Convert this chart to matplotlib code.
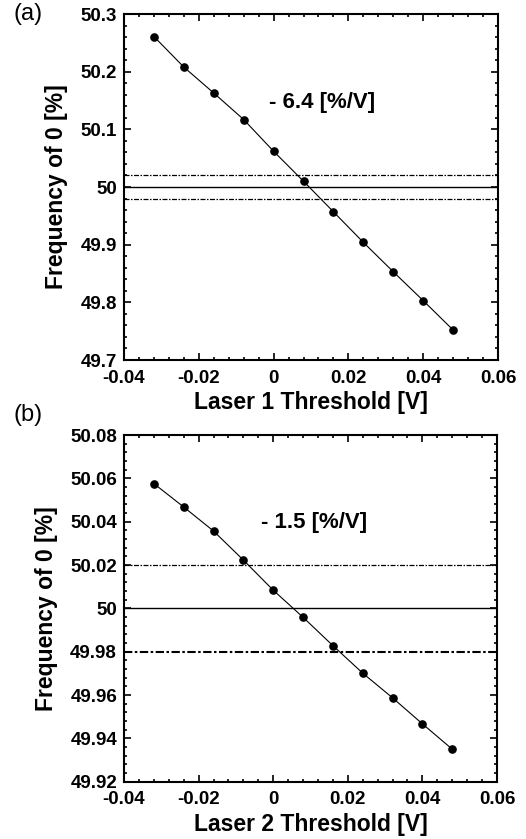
import matplotlib
matplotlib.use("Agg")
import matplotlib.pyplot as plt
from matplotlib.ticker import MultipleLocator, FuncFormatter

plt.rcParams["font.family"] = ["Liberation Sans", "DejaVu Sans"]

threshold_v = [-0.032, -0.024, -0.016, -0.008, 0.0, 0.008, 0.016, 0.024, 0.032, 0.040, 0.048]
freq_laser1 = [50.261, 50.208, 50.163, 50.117, 50.062, 50.010, 49.957, 49.904, 49.853, 49.803, 49.752]
freq_laser2 = [50.0576, 50.0468, 50.0357, 50.0223, 50.0084, 49.9959, 49.9828, 49.9701, 49.9587, 49.9467, 49.9350]
center_line = 50.0
band_lines = [50.02, 49.98]

panels = [
    dict(tag="(a)", y=freq_laser1, xlabel="Laser 1 Threshold [V]", slope="- 6.4 [%/V]",
         ylim=(49.7, 50.3), major=0.1, minor=0.02, rect=[0.2357, 0.5709, 0.7111, 0.4124],
         text_xy=(0.013, 50.146), band_lw=[0.9, 0.9], tag_y=1 - 3 / 839),
    dict(tag="(b)", y=freq_laser2, xlabel="Laser 2 Threshold [V]", slope="- 1.5 [%/V]",
         ylim=(49.92, 50.08), major=0.02, minor=0.004, rect=[0.2357, 0.0683, 0.7092, 0.4132],
         text_xy=(0.011, 50.0394), band_lw=[0.9, 1.5], tag_y=1 - 404 / 839),
]


def fmt(v, _):
    s = f"{v:.2f}".rstrip("0").rstrip(".")
    return "0" if s in ("-0", "0") else s


fig = plt.figure(figsize=(5.26, 8.39), dpi=100)
fig.patch.set_facecolor("white")

for p in panels:
    ax = fig.add_axes(p["rect"])
    ax.axhline(center_line, color="black", lw=1.0)
    for yv, lw in zip(band_lines, p["band_lw"]):
        ax.axhline(yv, color="black", lw=lw, ls=(0, (4, 1.2, 1.2, 1.2)))
    ax.plot(threshold_v, p["y"], color="black", lw=0.8, marker="o", ms=5.2)
    ax.set_xlim(-0.04, 0.06)
    ax.set_ylim(*p["ylim"])
    ax.xaxis.set_major_locator(MultipleLocator(0.02))
    ax.xaxis.set_minor_locator(MultipleLocator(0.004))
    ax.yaxis.set_major_locator(MultipleLocator(p["major"]))
    ax.yaxis.set_minor_locator(MultipleLocator(p["minor"]))
    ax.xaxis.set_major_formatter(FuncFormatter(fmt))
    ax.yaxis.set_major_formatter(FuncFormatter(fmt))
    ax.tick_params(which="both", direction="in", top=True, right=True, width=1.2)
    ax.tick_params(which="major", length=5, labelsize=13.5)
    ax.tick_params(axis="x", which="major", pad=7)
    ax.tick_params(axis="y", which="major", pad=5)
    ax.tick_params(which="minor", length=2.5)
    for lab in ax.get_xticklabels() + ax.get_yticklabels():
        lab.set_fontweight("bold")
    for sp in ax.spines.values():
        sp.set_linewidth(1.5)
    ax.set_xlabel(p["xlabel"], fontsize=16.5, fontweight="bold", labelpad=3)
    ax.set_ylabel("Frequency of 0 [%]", fontsize=16.5, fontweight="bold", labelpad=9)
    ax.text(p["text_xy"][0], p["text_xy"][1], p["slope"], fontsize=16,
            fontweight="bold", ha="center", va="center")
    fig.text(0.025, p["tag_y"], p["tag"], fontsize=17, ha="left", va="top")

fig.savefig("out.png", dpi=100, facecolor=fig.get_facecolor())
